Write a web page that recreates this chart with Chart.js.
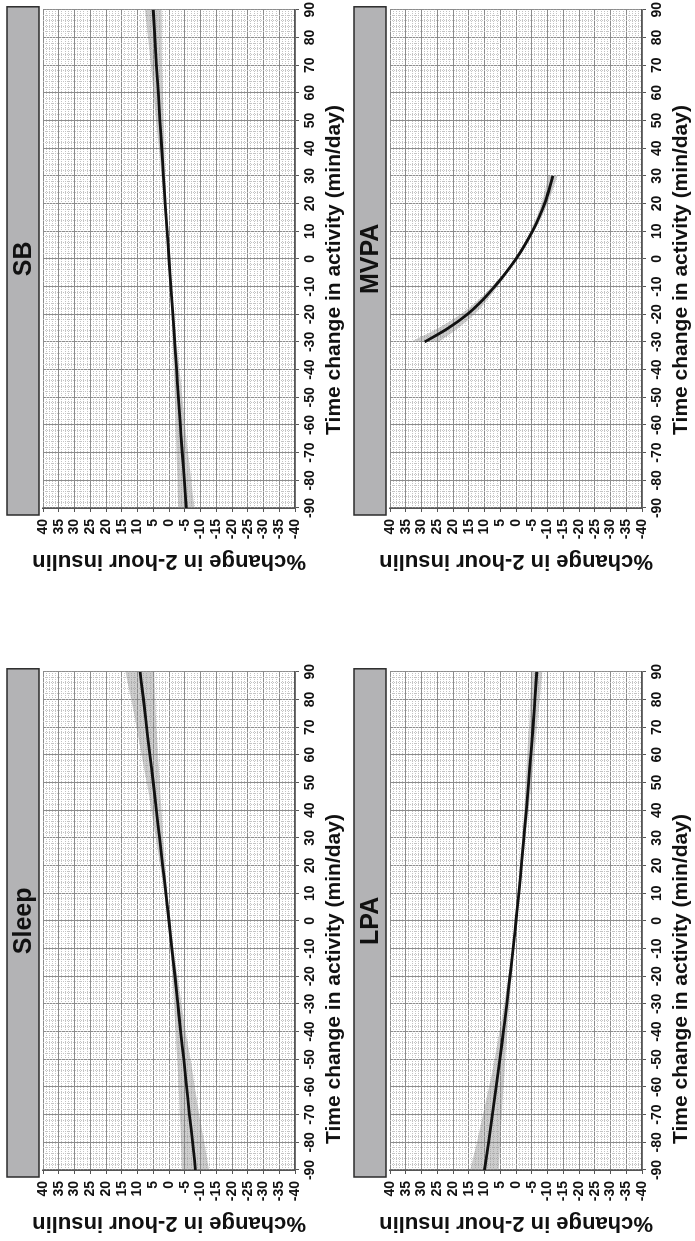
<!DOCTYPE html>
<html>
<head>
<meta charset="utf-8">
<script src="https://cdn.jsdelivr.net/npm/chart.js@4.4.1/dist/chart.umd.min.js"></script>
<style>
  html, body { margin: 0; padding: 0; background: #fff; width: 695px; height: 1241px; overflow: hidden; }
  /* the 2x2 sheet is laid out landscape, then turned a quarter turn counter-clockwise */
  #sheet { position: absolute; left: 0; top: 0; width: 1241px; height: 695px;
           transform-origin: 0 0; transform: translate(0, 1241px) rotate(-90deg); background: #fff; }
  .panel { position: absolute; width: 580px; height: 347px; }
</style>
</head>
<body>
<div id="sheet">
  <div class="panel" style="left:0;top:0"><canvas id="cSleep" width="580" height="347"></canvas></div>
  <div class="panel" style="left:662px;top:0"><canvas id="cSB" width="580" height="347"></canvas></div>
  <div class="panel" style="left:0;top:347px"><canvas id="cLPA" width="580" height="347"></canvas></div>
  <div class="panel" style="left:662px;top:347px"><canvas id="cMVPA" width="580" height="347"></canvas></div>
</div>
<script>
// minutes of time reallocated (x) and % change in 2-hour insulin (y)
const minutes = [-90, -80, -70, -60, -50, -40, -30, -20, -10, 0, 10, 20, 30, 40, 50, 60, 70, 80, 90];
const mvpaMinutes = [-30, -25, -20, -15, -10, -5, 0, 5, 10, 15, 20, 25, 30];

const sleepFit = [-8.4, -7.5, -6.5, -5.6, -4.7, -3.7, -2.8, -1.9, -0.9, 0, 1.0, 2.0, 3.0, 4.0, 5.0, 6.1, 7.1, 8.1, 9.2];
const sleepLo  = [-12.7, -11.2, -9.6, -8.2, -6.8, -5.3, -4.0, -2.7, -1.4, -0.3, 0.5, 1.2, 1.8, 2.4, 2.9, 3.5, 4.0, 4.4, 4.7];
const sleepHi  = [-4.1, -3.8, -3.4, -3.0, -2.6, -2.1, -1.6, -1.1, -0.4, 0.3, 1.5, 2.8, 4.2, 5.6, 7.1, 8.7, 10.3, 12.0, 13.8];

const sbFit = [-5.5, -4.9, -4.2, -3.6, -3.0, -2.4, -1.8, -1.2, -0.6, 0, 0.6, 1.2, 1.8, 2.3, 2.9, 3.4, 4.0, 4.5, 5.0];
const sbLo  = [-8.1, -7.1, -6.0, -5.1, -4.2, -3.3, -2.4, -1.6, -0.9, -0.2, 0.3, 0.8, 1.2, 1.4, 1.7, 1.9, 2.2, 2.3, 2.4];
const sbHi  = [-2.9, -2.7, -2.4, -2.1, -1.8, -1.5, -1.2, -0.8, -0.3, 0.2, 0.9, 1.6, 2.4, 3.2, 4.1, 4.9, 5.8, 6.7, 7.6];

const lpaFit = [10.0, 8.7, 7.5, 6.3, 5.1, 4.0, 2.9, 1.9, 0.9, 0, -0.9, -1.7, -2.5, -3.3, -4.0, -4.7, -5.4, -6.0, -6.6];
const lpaLo  = [5.5, 5.0, 4.5, 4.0, 3.4, 2.8, 2.1, 1.4, 0.6, -0.2, -1.2, -2.1, -3.0, -4.0, -4.9, -5.8, -6.7, -7.5, -8.3];
const lpaHi  = [14.5, 12.4, 10.5, 8.6, 6.8, 5.2, 3.7, 2.4, 1.2, 0.2, -0.6, -1.3, -2.0, -2.6, -3.1, -3.6, -4.1, -4.5, -4.9];

const mvpaFit = [29.0, 21.5, 15.4, 10.7, 6.8, 3.2, 0, -2.8, -5.2, -7.3, -9.1, -10.5, -11.7];
const mvpaLo  = [24.5, 18.3, 13.2, 9.3, 5.9, 2.7, -0.2, -3.2, -5.8, -8.1, -10.1, -11.7, -13.2];
const mvpaHi  = [33.5, 24.7, 17.6, 12.1, 7.7, 3.7, 0.2, -2.4, -4.6, -6.5, -8.1, -9.3, -10.2];

// axis ranges and tick steps
const xRange = [-90, 90];
const yRange = [-40, 40];
const xStep = 10;
const yStep = 5;

const xTitle = 'Time change in activity (min/day)';
const yTitle = '%change in 2-hour insulin';

const FONT = '"Liberation Sans", Arial, Helvetica, sans-serif';
Chart.defaults.font.family = FONT;
Chart.defaults.color = '#111';

// grey header strip with the activity name above the plot area,
// and the x-axis caption set under the tick labels
const stripPlugin = {
  id: 'strip',
  beforeDraw(chart, args, opts) {
    const { ctx, chartArea: a } = chart;
    const x0 = a.left - 7, x1 = a.right + 3, y0 = 7, y1 = 39;
    ctx.save();
    ctx.fillStyle = '#b3b3b5';
    ctx.fillRect(x0, y0, x1 - x0, y1 - y0);
    ctx.strokeStyle = '#2b2b2b';
    ctx.lineWidth = 1.5;
    ctx.strokeRect(x0, y0, x1 - x0, y1 - y0);
    ctx.fillStyle = '#111';
    ctx.font = 'bold 25px ' + FONT;
    ctx.textAlign = 'center';
    ctx.textBaseline = 'middle';
    ctx.fillText(opts.text, (a.left + a.right) / 2, (y0 + y1) / 2 + 1);
    ctx.restore();
  },
  afterDraw(chart, args, opts) {
    const { ctx } = chart;
    const cx = chart.scales.x.getPixelForValue(opts.captionAt);
    ctx.save();
    ctx.fillStyle = '#111';
    ctx.font = 'bold 21px ' + FONT;
    ctx.textAlign = 'center';
    ctx.textBaseline = 'middle';
    ctx.fillText(xTitle, cx, chart.height - 13);
    ctx.restore();
  }
};

function pts(xs, ys) {
  return xs.map((x, i) => ({ x: x, y: ys[i] }));
}

function minorColor(every) {
  return (c) => (c.tick && Math.abs(c.tick.value % every) < 1e-9) ? 'rgba(0,0,0,0)' : '#c4c4c4';
}

function makePanel(id, name, captionAt, xs, fit, lo, hi) {
  new Chart(document.getElementById(id), {
    type: 'line',
    data: {
      datasets: [
        { label: 'fit', data: pts(xs, fit), borderColor: '#111', borderWidth: 2.8,
          pointRadius: 0, fill: false, cubicInterpolationMode: 'monotone' },
        { label: 'lower', data: pts(xs, lo), borderWidth: 0, borderColor: 'rgba(0,0,0,0)',
          pointRadius: 0, fill: false, cubicInterpolationMode: 'monotone' },
        { label: 'upper', data: pts(xs, hi), borderWidth: 0, borderColor: 'rgba(0,0,0,0)',
          pointRadius: 0, fill: '-1', backgroundColor: 'rgba(135,135,135,0.42)',
          cubicInterpolationMode: 'monotone' }
      ]
    },
    options: {
      responsive: false,
      animation: false,
      devicePixelRatio: 1,
      layout: { padding: { left: 0, right: 9, top: 43, bottom: 0 } },
      plugins: {
        legend: { display: false },
        tooltip: { enabled: false },
        strip: { text: name, captionAt: captionAt }
      },
      scales: {
        x: {
          type: 'linear', position: 'bottom', min: xRange[0], max: xRange[1],
          ticks: { stepSize: xStep, autoSkip: false, maxRotation: 0, minRotation: 0, padding: 3,
                   color: '#111', font: { size: 14, weight: 'bold' } },
          grid: { color: '#8c8c8c', lineWidth: 1, tickLength: 4, tickColor: '#555' },
          border: { color: '#555', width: 1.5 },
          title: { display: false },
          afterFit(s) { s.height = 52; }
        },
        y: {
          type: 'linear', position: 'left', min: yRange[0], max: yRange[1],
          ticks: { stepSize: yStep, autoSkip: false, padding: 7,
                   color: '#111', font: { size: 14, weight: 'bold' } },
          grid: { color: '#8c8c8c', lineWidth: 1, tickLength: 4, tickColor: '#555' },
          border: { color: '#555', width: 1.5 },
          title: { display: true, text: yTitle, color: '#111', padding: { top: 5, bottom: 0 },
                   font: { size: 22, weight: 'bold' } },
          afterFit(s) { s.width = 71; }
        },
        xMinor: {
          type: 'linear', position: 'bottom', min: xRange[0], max: xRange[1],
          ticks: { display: false, stepSize: 2 },
          grid: { drawTicks: false, lineWidth: 1, color: minorColor(xStep) },
          border: { display: false, dash: [1, 1] },
          afterFit(s) { s.height = 0; }
        },
        yMinor: {
          type: 'linear', position: 'left', min: yRange[0], max: yRange[1],
          ticks: { display: false, stepSize: 1 },
          grid: { drawTicks: false, lineWidth: 1, color: minorColor(yStep) },
          border: { display: false, dash: [1, 1] },
          afterFit(s) { s.width = 0; }
        }
      }
    },
    plugins: [stripPlugin]
  });
}

makePanel('cSleep', 'Sleep', -21, minutes, sleepFit, sleepLo, sleepHi);
makePanel('cSB', 'SB', -4, minutes, sbFit, sbLo, sbHi);
makePanel('cLPA', 'LPA', -21, minutes, lpaFit, lpaLo, lpaHi);
makePanel('cMVPA', 'MVPA', -4, mvpaMinutes, mvpaFit, mvpaLo, mvpaHi);
</script>
</body>
</html>
